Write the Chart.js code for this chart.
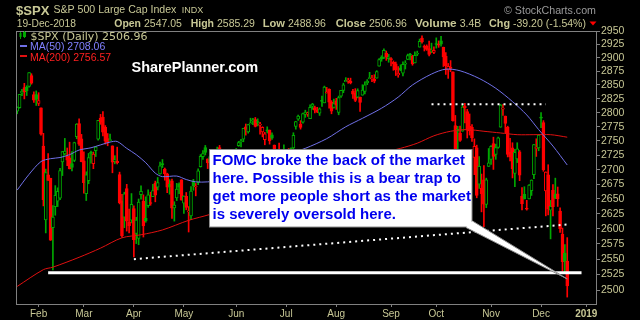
<!DOCTYPE html>
<html><head><meta charset="utf-8">
<style>html,body{margin:0;padding:0;background:#000;overflow:hidden}canvas{display:block}</style>
<script src="https://cdn.jsdelivr.net/npm/chart.js@4.4.1/dist/chart.umd.min.js"></script>
</head><body>
<canvas id="c" width="640" height="320"></canvas>
<script>
// ---------- DATA ----------
const dates = [
'2018-01-19','2018-01-22','2018-01-23','2018-01-24','2018-01-25','2018-01-26','2018-01-29','2018-01-30','2018-01-31',
'2018-02-01','2018-02-02','2018-02-05','2018-02-06','2018-02-07','2018-02-08','2018-02-09','2018-02-12','2018-02-13','2018-02-14','2018-02-15','2018-02-16','2018-02-20','2018-02-21','2018-02-22','2018-02-23','2018-02-26','2018-02-27','2018-02-28',
'2018-03-01','2018-03-02','2018-03-05','2018-03-06','2018-03-07','2018-03-08','2018-03-09','2018-03-12','2018-03-13','2018-03-14','2018-03-15','2018-03-16','2018-03-19','2018-03-20','2018-03-21','2018-03-22','2018-03-23','2018-03-26','2018-03-27','2018-03-28','2018-03-29',
'2018-04-02','2018-04-03','2018-04-04','2018-04-05','2018-04-06','2018-04-09','2018-04-10','2018-04-11','2018-04-12','2018-04-13','2018-04-16','2018-04-17','2018-04-18','2018-04-19','2018-04-20','2018-04-23','2018-04-24','2018-04-25','2018-04-26','2018-04-27','2018-04-30',
'2018-05-01','2018-05-02','2018-05-03','2018-05-04','2018-05-07','2018-05-08','2018-05-09','2018-05-10','2018-05-11','2018-05-14','2018-05-15','2018-05-16','2018-05-17','2018-05-18','2018-05-21','2018-05-22','2018-05-23','2018-05-24','2018-05-25','2018-05-29','2018-05-30','2018-05-31',
'2018-06-01','2018-06-04','2018-06-05','2018-06-06','2018-06-07','2018-06-08','2018-06-11','2018-06-12','2018-06-13','2018-06-14','2018-06-15','2018-06-18','2018-06-19','2018-06-20','2018-06-21','2018-06-22','2018-06-25','2018-06-26','2018-06-27','2018-06-28','2018-06-29',
'2018-07-02','2018-07-03','2018-07-05','2018-07-06','2018-07-09','2018-07-10','2018-07-11','2018-07-12','2018-07-13','2018-07-16','2018-07-17','2018-07-18','2018-07-19','2018-07-20','2018-07-23','2018-07-24','2018-07-25','2018-07-26','2018-07-27','2018-07-30','2018-07-31',
'2018-08-01','2018-08-02','2018-08-03','2018-08-06','2018-08-07','2018-08-08','2018-08-09','2018-08-10','2018-08-13','2018-08-14','2018-08-15','2018-08-16','2018-08-17','2018-08-20','2018-08-21','2018-08-22','2018-08-23','2018-08-24','2018-08-27','2018-08-28','2018-08-29','2018-08-30','2018-08-31',
'2018-09-04','2018-09-05','2018-09-06','2018-09-07','2018-09-10','2018-09-11','2018-09-12','2018-09-13','2018-09-14','2018-09-17','2018-09-18','2018-09-19','2018-09-20','2018-09-21','2018-09-24','2018-09-25','2018-09-26','2018-09-27','2018-09-28',
'2018-10-01','2018-10-02','2018-10-03','2018-10-04','2018-10-05','2018-10-08','2018-10-09','2018-10-10','2018-10-11','2018-10-12','2018-10-15','2018-10-16','2018-10-17','2018-10-18','2018-10-19','2018-10-22','2018-10-23','2018-10-24','2018-10-25','2018-10-26','2018-10-29','2018-10-30','2018-10-31',
'2018-11-01','2018-11-02','2018-11-05','2018-11-06','2018-11-07','2018-11-08','2018-11-09','2018-11-12','2018-11-13','2018-11-14','2018-11-15','2018-11-16','2018-11-19','2018-11-20','2018-11-21','2018-11-23','2018-11-26','2018-11-27','2018-11-28','2018-11-29','2018-11-30',
'2018-12-03','2018-12-04','2018-12-06','2018-12-07','2018-12-10','2018-12-11','2018-12-12','2018-12-13','2018-12-14','2018-12-17','2018-12-18','2018-12-19',
'2018-12-20','2018-12-21','2018-12-24','2018-12-26','2018-12-27','2018-12-28','2018-12-31','2019-01-02','2019-01-03','2019-01-04','2019-01-07','2019-01-08'
];
const monthNames = ['Jan','Feb','Mar','Apr','May','Jun','Jul','Aug','Sep','Oct','Nov','Dec'];
const priorClose = 2798.0;

const opens = [
2802.6,2809.2,2835.1,2845.4,2846.2,2847.5,2867.2,2832.7,2832.4,
2816.5,2808.9,2741.1,2614.8,2691.0,2685.0,2601.8,2636.8,2646.3,2651.2,2713.5,2727.1,2723.0,2720.5,2710.4,2715.8,2757.4,2780.5,2753.8,
2715.2,2658.9,2681.1,2730.2,2710.2,2732.8,2752.9,2790.5,2792.3,2774.1,2754.3,2750.6,2741.4,2715.1,2715.0,2691.4,2646.7,2619.4,2667.6,2611.3,2614.4,
2633.5,2592.2,2584.0,2657.4,2645.8,2617.2,2638.4,2643.9,2653.8,2676.9,2670.1,2692.7,2710.1,2701.2,2692.6,2675.4,2680.8,2634.9,2651.7,2675.5,2682.5,
2643.0,2654.2,2628.1,2621.5,2680.3,2670.3,2678.1,2705.0,2722.7,2738.5,2718.6,2712.6,2719.7,2717.4,2735.4,2738.3,2714.0,2730.9,2723.6,2705.1,2702.4,2721.0,
2718.7,2741.7,2748.5,2753.3,2774.8,2765.8,2780.2,2785.6,2787.9,2783.2,2777.8,2765.8,2752.0,2769.7,2769.3,2760.8,2742.9,2722.1,2728.5,2698.7,2727.1,
2705.0,2733.3,2724.2,2737.7,2775.6,2788.6,2779.8,2783.1,2796.9,2797.4,2789.3,2811.4,2809.4,2804.6,2799.2,2820.7,2817.7,2835.5,2842.4,2819.0,2809.7,
2821.2,2800.5,2829.6,2840.3,2855.9,2856.8,2857.2,2838.9,2835.5,2827.9,2828.0,2831.4,2838.3,2853.9,2861.5,2861.0,2860.3,2862.4,2884.7,2901.5,2900.6,2908.9,2898.4,
2897.0,2891.6,2888.6,2868.3,2881.4,2871.6,2888.3,2896.9,2906.4,2903.8,2890.7,2906.6,2919.7,2936.8,2921.8,2921.8,2917.0,2911.7,2910.0,
2926.3,2923.8,2931.7,2919.4,2902.5,2877.5,2882.5,2873.9,2776.9,2770.5,2763.8,2767.1,2811.7,2802.0,2775.7,2773.9,2721.0,2737.9,2674.9,2667.9,2682.7,2640.7,2705.6,
2717.6,2745.5,2726.4,2738.4,2774.1,2806.4,2794.1,2773.9,2730.1,2737.9,2693.5,2718.5,2730.7,2654.6,2657.7,2633.4,2650.0,2663.8,2691.5,2737.0,2737.8,
2790.5,2782.4,2663.5,2691.3,2630.9,2664.4,2658.2,2658.7,2629.7,2590.8,2559.9,2547.05
];
const highs = [
2810.3,2833.0,2842.2,2853.0,2848.6,2872.9,2870.6,2837.8,2839.3,
2836.0,2808.9,2763.4,2701.0,2727.7,2685.3,2638.7,2672.6,2668.8,2702.1,2731.5,2754.4,2737.6,2747.8,2731.3,2747.8,2780.6,2789.2,2761.5,
2730.9,2696.3,2728.1,2732.1,2730.6,2740.5,2786.6,2797.0,2801.9,2777.1,2763.0,2761.9,2741.4,2724.2,2739.1,2695.7,2657.7,2661.4,2674.8,2632.7,2659.1,
2638.3,2619.1,2649.9,2672.1,2656.9,2653.6,2665.5,2661.4,2674.7,2680.3,2686.5,2713.3,2717.5,2702.8,2693.9,2682.9,2683.6,2645.3,2676.5,2677.4,2682.9,
2655.3,2660.9,2637.1,2670.9,2683.4,2676.3,2701.3,2726.1,2732.9,2742.1,2718.6,2727.8,2732.0,2719.5,2739.2,2742.2,2733.3,2732.0,2727.4,2710.7,2729.3,2722.5,
2736.9,2749.2,2752.6,2772.4,2779.9,2779.4,2790.2,2789.8,2791.5,2789.1,2782.8,2775.0,2765.1,2774.9,2769.3,2764.2,2742.9,2732.9,2746.1,2724.3,2743.3,
2727.3,2736.6,2737.8,2764.4,2784.7,2795.6,2785.9,2799.2,2804.5,2801.2,2814.2,2816.8,2812.1,2809.7,2808.6,2830.0,2848.0,2845.6,2843.2,2821.7,2824.5,
2825.8,2829.9,2840.4,2853.3,2863.4,2862.4,2862.5,2842.2,2843.4,2843.1,2828.0,2850.5,2855.6,2859.8,2873.2,2867.5,2868.8,2876.2,2898.3,2903.8,2916.5,2912.5,2906.3,
2900.2,2894.2,2892.1,2883.8,2886.9,2892.5,2894.7,2906.8,2908.3,2904.7,2911.2,2912.4,2934.8,2940.9,2923.8,2924.0,2931.2,2927.2,2920.5,
2937.1,2931.4,2939.9,2919.8,2909.6,2889.5,2894.8,2874.0,2795.1,2775.8,2776.0,2813.5,2816.9,2806.0,2797.8,2778.9,2753.6,2742.6,2722.7,2692.4,2706.9,2685.4,2736.7,
2741.7,2756.6,2744.3,2756.8,2815.2,2814.8,2794.1,2776.0,2754.6,2746.8,2735.4,2746.8,2733.2,2669.4,2670.7,2647.6,2674.4,2682.5,2744.0,2753.8,2760.9,
2800.2,2785.9,2696.2,2708.5,2647.5,2674.4,2685.4,2670.2,2635.1,2601.1,2574.0,2585.29
];
const lows = [
2798.1,2808.1,2830.6,2824.8,2830.9,2846.2,2851.5,2818.3,2813.0,
2812.7,2760.0,2638.2,2593.1,2681.3,2580.6,2532.7,2622.5,2637.1,2648.9,2689.8,2725.1,2706.8,2701.3,2697.8,2713.7,2753.8,2742.1,2713.5,
2659.7,2647.3,2675.8,2711.3,2701.7,2722.7,2751.5,2779.3,2758.7,2744.4,2741.5,2750.0,2694.6,2710.1,2709.8,2641.6,2585.9,2601.8,2596.1,2593.1,2609.7,
2553.8,2575.5,2573.6,2649.6,2586.3,2610.8,2635.8,2639.3,2653.8,2645.1,2665.2,2692.1,2703.6,2681.9,2660.6,2658.0,2617.3,2612.7,2647.2,2659.0,2648.0,
2625.4,2631.7,2594.6,2615.3,2664.7,2655.2,2674.1,2704.5,2717.5,2725.5,2701.9,2712.2,2711.4,2709.2,2725.7,2721.9,2709.5,2707.4,2715.0,2676.8,2702.4,2700.7,
2718.7,2740.5,2739.5,2748.5,2760.2,2763.6,2780.2,2778.8,2774.7,2776.5,2761.7,2757.1,2743.2,2763.9,2744.4,2752.7,2698.7,2715.6,2699.4,2692.0,2718.0,
2699.0,2711.2,2716.0,2733.5,2770.7,2786.2,2770.8,2781.5,2791.7,2793.4,2789.2,2805.9,2799.8,2800.0,2795.1,2811.1,2817.7,2835.3,2808.3,2798.1,2808.1,
2805.9,2796.3,2827.4,2836.0,2855.9,2853.1,2852.0,2825.8,2819.9,2826.6,2802.5,2831.4,2833.7,2850.6,2861.3,2856.1,2854.0,2862.4,2884.7,2893.5,2898.4,2895.2,2891.7,
2885.1,2876.9,2867.3,2864.1,2875.9,2866.8,2879.2,2896.4,2895.8,2886.2,2890.4,2903.8,2919.7,2927.1,2912.6,2913.7,2903.3,2909.3,2907.5,
2917.9,2919.4,2921.4,2883.9,2869.3,2862.1,2874.3,2784.9,2710.5,2729.4,2749.0,2766.9,2781.8,2755.2,2760.3,2749.2,2691.4,2651.9,2667.8,2628.2,2603.5,2635.3,2705.6,
2708.9,2700.4,2717.9,2737.1,2774.1,2795.0,2764.2,2722.0,2715.0,2685.8,2670.8,2712.2,2681.1,2631.5,2649.8,2631.1,2650.0,2655.9,2684.4,2722.9,2732.8,
2773.4,2697.2,2621.5,2623.1,2583.2,2621.3,2650.3,2637.3,2593.8,2530.5,2528.7,2488.96
];
const closes = [
2810.3,2833.0,2839.1,2837.5,2839.3,2872.9,2853.5,2822.4,2823.8,
2822.0,2762.1,2648.9,2695.1,2681.7,2581.0,2619.6,2656.0,2662.9,2698.6,2731.2,2732.2,2716.3,2701.3,2704.0,2747.3,2779.6,2744.3,2713.8,
2677.7,2691.3,2720.9,2728.1,2726.8,2739.0,2786.6,2783.0,2765.3,2749.5,2747.3,2752.0,2712.9,2716.9,2711.9,2643.7,2588.3,2658.6,2612.6,2605.0,2640.9,
2581.9,2614.5,2644.7,2662.8,2604.5,2613.2,2656.9,2642.2,2664.0,2656.3,2677.8,2706.4,2708.6,2693.1,2670.1,2670.3,2634.6,2639.4,2666.9,2669.9,2648.1,
2654.8,2635.7,2629.7,2663.4,2672.6,2671.9,2697.8,2723.1,2727.7,2730.1,2711.5,2722.5,2720.1,2713.0,2733.0,2724.4,2733.3,2727.8,2721.3,2689.9,2724.0,2705.3,
2734.6,2746.9,2748.8,2772.4,2770.4,2779.0,2782.0,2786.9,2775.6,2782.5,2779.7,2773.8,2762.6,2767.3,2749.8,2754.9,2717.1,2723.1,2699.6,2716.3,2718.4,
2726.7,2713.2,2736.6,2759.8,2784.2,2793.8,2774.0,2798.3,2801.3,2798.4,2809.6,2815.6,2804.5,2801.8,2807.0,2820.4,2846.1,2837.4,2818.8,2802.6,2816.3,
2813.4,2827.2,2840.4,2850.4,2858.5,2857.7,2853.6,2833.3,2821.9,2840.0,2818.4,2840.7,2850.1,2857.1,2863.0,2861.8,2857.0,2874.7,2896.7,2897.5,2914.0,2901.1,2901.5,
2896.7,2888.6,2878.1,2871.7,2877.1,2887.9,2888.9,2904.2,2905.0,2888.8,2904.3,2908.0,2930.8,2929.7,2919.4,2915.6,2906.0,2914.0,2913.9,
2924.6,2923.4,2925.5,2901.6,2885.6,2884.4,2880.3,2785.7,2728.4,2767.1,2750.8,2809.9,2809.2,2768.8,2767.8,2755.9,2740.7,2656.1,2705.6,2658.7,2641.3,2682.6,2711.7,
2740.4,2723.1,2738.3,2755.5,2813.9,2806.8,2781.0,2726.2,2722.2,2701.6,2730.2,2736.3,2690.7,2641.9,2649.9,2632.6,2673.5,2682.2,2743.8,2737.8,2760.2,
2790.4,2700.1,2696.0,2633.1,2637.7,2636.8,2651.1,2650.5,2600.0,2545.9,2546.2,2506.96
];

const ma50Dates = ['2018-01-19','2018-01-26','2018-02-02','2018-02-08','2018-02-14','2018-02-21','2018-02-27','2018-03-06','2018-03-12','2018-03-16','2018-03-21','2018-03-27','2018-04-03','2018-04-09','2018-04-13','2018-04-18','2018-04-26','2018-05-02','2018-05-08','2018-05-15','2018-05-22','2018-05-30','2018-06-06','2018-06-13','2018-06-20','2018-06-27','2018-07-05','2018-07-13','2018-07-26','2018-08-07','2018-08-16','2018-08-28','2018-09-07','2018-09-17','2018-09-27','2018-10-05','2018-10-15','2018-10-25','2018-11-05','2018-11-14','2018-11-23','2018-11-30','2018-12-11','2018-12-19'];
const ma50Values = [2665,2692,2714,2719,2721,2726,2734,2738,2743,2748,2749,2737,2726,2712,2694,2688,2689,2683,2679,2679,2682,2688,2697,2707,2716,2723,2729,2737,2754,2775,2790,2808,2828,2850,2870,2879,2876,2862,2844,2820,2796,2770,2741,2708.06];

const ma200Dates = ['2018-01-19','2018-02-05','2018-02-09','2018-02-27','2018-03-12','2018-03-23','2018-04-05','2018-04-18','2018-05-03','2018-05-16','2018-05-30','2018-06-13','2018-06-27','2018-07-12','2018-07-26','2018-08-09','2018-08-23','2018-09-10','2018-09-19','2018-09-28','2018-10-09','2018-10-18','2018-10-29','2018-11-07','2018-11-16','2018-11-28','2018-12-10','2018-12-19'];
const ma200Values = [2506,2533,2537,2553,2568,2585,2590,2598,2614,2624,2637,2652,2668,2684,2699,2713,2726,2737,2746,2759,2767,2770,2767,2764,2761,2761,2761,2756.57];

const yTicks = [2500,2525,2550,2575,2600,2625,2650,2675,2700,2725,2750,2775,2800,2825,2850,2875,2900,2925,2950];

// annotation lines (date, value)
const supportLine = [['2018-02-07',2528],['2018-12-28',2528]];
const risingDots  = [['2018-04-02',2550],['2018-12-19',2607]];
const topDots     = [['2018-09-27',2815],['2018-12-06',2815]];

const noteLines = ['FOMC broke the back of the market','here. Possible this is a bear trap to','get more people short as the market','is severely oversold here.'];
const quoteLabels = ['Open','High','Low','Close','Volume','Chg'];
const quoteValues = ['2547.05','2585.29','2488.96','2506.96','3.4B','-39.20 (-1.54%)'];

// ---------- STYLE ----------
const KHAKI = '#c8c896', UP = '#00a800', DN = '#ff0000', BLUE = '#7070e8', MARED = '#e01010';
const LIB = '"Liberation Sans"';
const candleColor = closes.map((c, i) => c >= (i ? closes[i-1] : priorClose) ? UP : DN);
const bodyFill = closes.map((c, i) => c < opens[i] ? candleColor[i] : '#000');
const toPts = arr => arr.map(p => ({x: p[0], y: p[1]}));

function monthLabel(i) {
  if (i === 0 || i >= dates.length) return '';
  const m = dates[i].slice(5, 7), pm = dates[i-1].slice(5, 7);
  if (m === pm) return '';
  return m === '01' ? dates[i].slice(0, 4) : monthNames[parseInt(m, 10) - 1];
}
// set a font so that text occupies the given width
function fitFont(c, text, weight, family, targetW) {
  c.font = weight + ' 10px ' + family;
  const w = c.measureText(text).width;
  c.font = weight + ' ' + (10 * targetW / w).toFixed(2) + 'px ' + family;
}

const overlay = {
  id: 'overlay',
  beforeDraw(chart) {
    const c = chart.ctx; c.save(); c.fillStyle = '#000'; c.fillRect(0, 0, chart.width, chart.height); c.restore();
  },
  afterDatasetsDraw(chart) {
    const c = chart.ctx, a = chart.chartArea;
    const xs = chart.scales.x, ys = chart.scales.y;
    c.save();
    // frame
    c.strokeStyle = '#808080'; c.lineWidth = 1;
    const L = Math.round(a.left), T = Math.round(a.top), R = Math.round(a.right), B = Math.round(a.bottom);
    c.strokeRect(L + 0.5, T + 0.5, R - L - 1, B - T);
    // legend
    c.textBaseline = 'alphabetic';
    c.fillStyle = UP;
    c.fillRect(20, 32, 1, 7); c.fillRect(19.5, 33, 2, 4);
    c.fillRect(24, 31, 1, 7);
    c.strokeStyle = UP; c.strokeRect(23.5, 32.5, 2, 4);
    c.font = '11px "DejaVu Sans"';
    c.fillStyle = KHAKI; c.fillText('$SPX (Daily) 2506.96', 30.5, 39.5);
    c.font = '10.5px ' + LIB;
    c.fillStyle = BLUE; c.fillRect(20, 45, 7, 2);
    c.fillStyle = '#8080ff'; c.fillText('MA(50) 2708.06', 30, 50);
    c.fillStyle = MARED; c.fillRect(20, 55, 7, 2);
    c.fillStyle = '#ff2020'; c.fillText('MA(200) 2756.57', 30, 60.5);
    // watermark
    c.font = 'bold 14.5px ' + LIB; c.fillStyle = '#ffffff';
    c.fillText('SharePlanner.com', 131.5, 72);
    // note box
    c.fillStyle = '#ffffff'; c.fillRect(209, 149, 263, 78);
    c.strokeStyle = '#8c8c8c'; c.strokeRect(209.5, 149.5, 262.5, 77.5);
    // callout pointer
    const tipX = xs.getPixelForValue(dates.indexOf('2018-12-19'));
    const tipY = ys.getPixelForValue(2518);
    c.beginPath(); c.moveTo(466, 227.5); c.lineTo(472.5, 221); c.lineTo(472.5, 228.5); c.closePath();
    c.fillStyle = '#ffffff'; c.fill();
    c.beginPath(); c.moveTo(466, 227.5); c.lineTo(tipX, tipY); c.lineTo(472.5, 221); c.closePath(); c.fill();
    c.beginPath(); c.moveTo(466, 227.5); c.lineTo(tipX, tipY); c.lineTo(472.5, 221);
    c.strokeStyle = '#8c8c8c'; c.stroke();
    c.font = 'bold 15px ' + LIB; c.fillStyle = '#0000ee';
    noteLines.forEach((t, k) => c.fillText(t, 212.5, 165 + k * 18));
    c.restore();
  },
  afterDraw(chart) {
    const c = chart.ctx; c.save();
    c.textBaseline = 'alphabetic';
    c.fillStyle = KHAKI;
    fitFont(c, '$SPX', 'bold', LIB, 33.5); c.fillText('$SPX', 16, 14.5);
    fitFont(c, 'S&P 500 Large Cap Index', 'normal', LIB, 123); c.fillText('S&P 500 Large Cap Index', 53.5, 13);
    fitFont(c, 'INDX', 'normal', LIB, 21.5); c.fillText('INDX', 181.7, 13);
    c.fillStyle = '#9a9a9a';
    fitFont(c, '\u00A9 StockCharts.com', 'normal', LIB, 92);
    c.textAlign = 'right'; c.fillText('\u00A9 StockCharts.com', 596, 13.5); c.textAlign = 'left';
    c.fillStyle = KHAKI;
    fitFont(c, '19-Dec-2018', 'normal', LIB, 59.3); c.fillText('19-Dec-2018', 16.7, 27);
    const lx = [114.3, 190.7, 262.7, 335.7, 415, 489];
    const lw = [26.7, 23.3, 22.3, 30.3, 41.7, 21];
    quoteLabels.forEach((lab, k) => {
      fitFont(c, lab, 'bold', LIB, lw[k]);
      c.fillText(lab, lx[k], 27);
      c.font = '10.5px ' + LIB;
      c.fillText(quoteValues[k], lx[k] + lw[k] + 3, 27);
    });
    c.fillStyle = '#ff0000';
    c.beginPath(); c.moveTo(589.5, 21.5); c.lineTo(596.5, 21.5); c.lineTo(593, 25.5); c.closePath(); c.fill();
    c.restore();
  }
};

Chart.defaults.font.family = LIB;

new Chart(document.getElementById('c'), {
  type: 'bar',
  data: {
    labels: dates,
    datasets: [
      { type: 'line', data: toPts(supportLine), borderColor: '#ffffff', borderWidth: 3, pointRadius: 0, order: 1 },
      { type: 'line', data: toPts(risingDots), borderColor: '#ffffff', borderWidth: 2, borderDash: [2, 4], pointRadius: 0, order: 2 },
      { type: 'line', data: toPts(topDots), borderColor: '#ffffff', borderWidth: 2, borderDash: [2, 4], pointRadius: 0, order: 2 },
      { type: 'line', data: ma50Dates.map((d, i) => ({x: d, y: ma50Values[i]})), borderColor: BLUE, borderWidth: 1, pointRadius: 0, tension: 0.3, order: 3 },
      { type: 'line', data: ma200Dates.map((d, i) => ({x: d, y: ma200Values[i]})), borderColor: MARED, borderWidth: 1, pointRadius: 0, tension: 0.3, order: 4 },
      { data: opens.map((o, i) => [o, closes[i]]), backgroundColor: bodyFill, borderColor: candleColor, borderWidth: 1, borderSkipped: false, barThickness: 3, grouped: false, minBarLength: 1, order: 5 },
      { data: lows.map((l, i) => [l, highs[i]]), backgroundColor: candleColor, borderWidth: 0, barThickness: 1, grouped: false, order: 6 }
    ]
  },
  options: {
    responsive: false, animation: false, devicePixelRatio: 1,
    layout: { padding: { left: 16, top: 31, right: 0, bottom: 0 } },
    plugins: { legend: { display: false }, tooltip: { enabled: false } },
    scales: {
      x: {
        type: 'category', offset: true,
        grid: { drawOnChartArea: false, offset: false, tickLength: 3,
                color: ctx => (ctx.tick && ctx.tick.label) ? '#808080' : 'rgba(0,0,0,0)' },
        border: { display: false },
        ticks: { autoSkip: false, maxRotation: 0, minRotation: 0, padding: 1, color: KHAKI,
                 font: ctx => ({ size: 10, weight: (ctx.tick && ctx.tick.label === '2019') ? 'bold' : 'normal' }),
                 callback: (v, i) => monthLabel(i) },
        afterFit: s => { s.height = 16; }
      },
      y: {
        type: 'logarithmic', position: 'right', min: 2478, max: 2950,
        grid: { drawOnChartArea: false, tickLength: 3, color: '#808080' },
        border: { display: false },
        ticks: { autoSkip: false, padding: 1, color: KHAKI, font: { size: 10.5 }, callback: v => String(v) },
        afterBuildTicks: s => { s.ticks = yTicks.map(v => ({ value: v })); },
        afterFit: s => { s.width = 43; }
      }
    }
  },
  plugins: [overlay]
});
</script>
</body></html>
